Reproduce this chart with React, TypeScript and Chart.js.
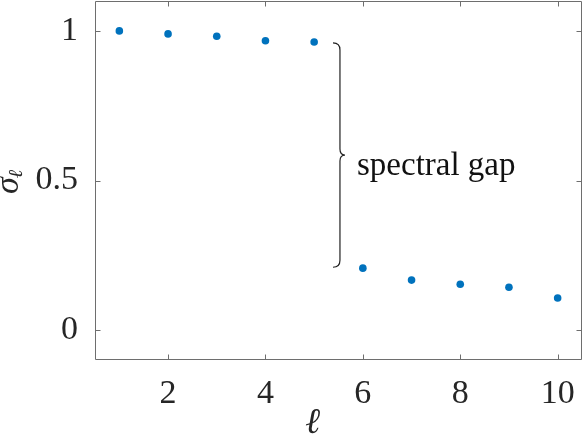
import React, { useEffect, useRef } from 'react';
import { Chart, registerables } from 'chart.js';

Chart.register(...registerables);

// ---- data ----
const ellValues = [1, 2, 3, 4, 5, 6, 7, 8, 9, 10];
const sigmaValues = [1.0, 0.99, 0.982, 0.967, 0.963, 0.207, 0.167, 0.153, 0.143, 0.107];
const xTickValues = [2, 4, 6, 8, 10];
const xTickLabels = ['2', '4', '6', '8', '10'];
const yTickValues = [0, 0.5, 1];
const yTickLabels = ['0', '0.5', '1'];
const xRange = [0.5, 10.5];
const yRange = [-0.1, 1.1];
// annotation (brace marking the spectral gap)
const braceX = 5.53;
const braceTop = 0.96;
const braceBottom = 0.21;
const gapLabel = 'spectral gap';
const gapLabelX = 5.88;
const gapLabelY = 0.547;
const xTitle = 'ℓ';
const yTitleMain = 'σ';
const yTitleSub = 'ℓ';

const FONT = "'Liberation Serif', 'Times New Roman', serif";
const TEXT_COLOR = '#262626';
const AXIS_COLOR = '#6e6e6e';
const POINT_COLOR = '#0072BD';

const framePlugin = {
  id: 'frame',
  afterDraw(chart: any) {
    const ctx = chart.ctx as CanvasRenderingContext2D;
    const { left, right, top, bottom } = chart.chartArea;
    const xs = chart.scales.x;
    const ys = chart.scales.y;
    ctx.save();
    // box
    ctx.strokeStyle = AXIS_COLOR;
    ctx.lineWidth = 1;
    const L = Math.round(left) + 0.5;
    const R = Math.round(right) - 0.5;
    const T = Math.round(top) + 0.5;
    const B = Math.round(bottom) - 0.5;
    ctx.beginPath();
    ctx.rect(L, T, R - L, B - T);
    ctx.stroke();
    // ticks inward
    const tl = 5;
    ctx.beginPath();
    xs.ticks.forEach((t: any) => {
      const px = Math.round(xs.getPixelForValue(t.value)) + 0.5;
      ctx.moveTo(px, B);
      ctx.lineTo(px, B - tl);
      ctx.moveTo(px, T);
      ctx.lineTo(px, T + tl);
    });
    ys.ticks.forEach((t: any) => {
      const py = Math.round(ys.getPixelForValue(t.value)) + 0.5;
      ctx.moveTo(L, py);
      ctx.lineTo(L + tl, py);
      ctx.moveTo(R, py);
      ctx.lineTo(R - tl, py);
    });
    ctx.stroke();

    // brace
    const bx = xs.getPixelForValue(braceX);
    const by0 = ys.getPixelForValue(braceTop);
    const by1 = ys.getPixelForValue(braceBottom);
    const mid = (by0 + by1) / 2;
    const arm = 7;
    const tip = 5;
    ctx.strokeStyle = '#222222';
    ctx.lineWidth = 1.2;
    ctx.beginPath();
    ctx.moveTo(bx - arm, by0);
    ctx.quadraticCurveTo(bx, by0, bx, by0 + 7);
    ctx.lineTo(bx, mid - 6);
    ctx.quadraticCurveTo(bx, mid, bx + tip, mid);
    ctx.quadraticCurveTo(bx, mid, bx, mid + 6);
    ctx.lineTo(bx, by1 - 7);
    ctx.quadraticCurveTo(bx, by1, bx - arm, by1);
    ctx.stroke();

    // annotation text
    ctx.fillStyle = '#111111';
    ctx.font = `33px ${FONT}`;
    ctx.textAlign = 'left';
    ctx.textBaseline = 'middle';
    ctx.fillText(gapLabel, xs.getPixelForValue(gapLabelX), ys.getPixelForValue(gapLabelY));

    // x title
    ctx.fillStyle = TEXT_COLOR;
    ctx.font = `italic 36px ${FONT}`;
    ctx.textAlign = 'center';
    ctx.textBaseline = 'alphabetic';
    ctx.fillText(xTitle, (left + right) / 2 - 26, 433);

    // y title (rotated)
    ctx.save();
    ctx.translate(18, 194);
    ctx.rotate(-Math.PI / 2);
    ctx.textAlign = 'left';
    ctx.font = `italic 34px ${FONT}`;
    ctx.fillText(yTitleMain, 0, 0);
    const w = ctx.measureText(yTitleMain).width;
    ctx.font = `italic 20px ${FONT}`;
    ctx.fillText(yTitleSub, w - 1, 4);
    ctx.restore();

    ctx.restore();
  },
};

export default function App() {
  const canvasRef = useRef<HTMLCanvasElement | null>(null);

  useEffect(() => {
    if (!canvasRef.current) return;
    const chart = new Chart(canvasRef.current, {
      type: 'scatter',
      data: {
        datasets: [
          {
            data: ellValues.map((x, i) => ({ x, y: sigmaValues[i] })),
            backgroundColor: POINT_COLOR,
            borderWidth: 0,
            pointRadius: 3.8,
            pointHoverRadius: 3.8,
          },
        ],
      },
      options: {
        responsive: false,
        animation: false,
        events: [],
        layout: { autoPadding: false, padding: { top: 1, right: 2, left: 0, bottom: 0 } },
        plugins: { legend: { display: false }, tooltip: { enabled: false } },
        scales: {
          x: {
            type: 'linear',
            min: xRange[0],
            max: xRange[1],
            afterBuildTicks: (s: any) => {
              s.ticks = xTickValues.map((v) => ({ value: v }));
            },
            afterFit: (s: any) => {
              s.height = 76;
              s.paddingLeft = 0;
              s.paddingRight = 0;
              s.paddingTop = 0;
              s.paddingBottom = 0;
            },
            grid: { display: false },
            border: { display: false },
            ticks: {
              autoSkip: false,
              maxRotation: 0,
              padding: 6,
              color: TEXT_COLOR,
              font: { family: FONT, size: 34 },
              callback: (_v: any, i: number) => xTickLabels[i],
            },
          },
          y: {
            type: 'linear',
            min: yRange[0],
            max: yRange[1],
            afterBuildTicks: (s: any) => {
              s.ticks = yTickValues.map((v) => ({ value: v }));
            },
            afterFit: (s: any) => {
              s.width = 95;
              s.paddingLeft = 0;
              s.paddingRight = 0;
              s.paddingTop = 0;
              s.paddingBottom = 0;
            },
            grid: { display: false },
            border: { display: false },
            ticks: {
              autoSkip: false,
              padding: 9,
              color: TEXT_COLOR,
              font: { family: FONT, size: 34 },
              callback: (_v: any, i: number) => yTickLabels[i],
            },
          },
        },
      },
      plugins: [framePlugin],
    });
    return () => chart.destroy();
  }, []);

  return (
    <div style={{ position: 'absolute', left: 0, top: 0, width: 584, height: 436, background: '#ffffff' }}>
      <canvas ref={canvasRef} width={584} height={436} style={{ display: 'block' }} />
    </div>
  );
}
